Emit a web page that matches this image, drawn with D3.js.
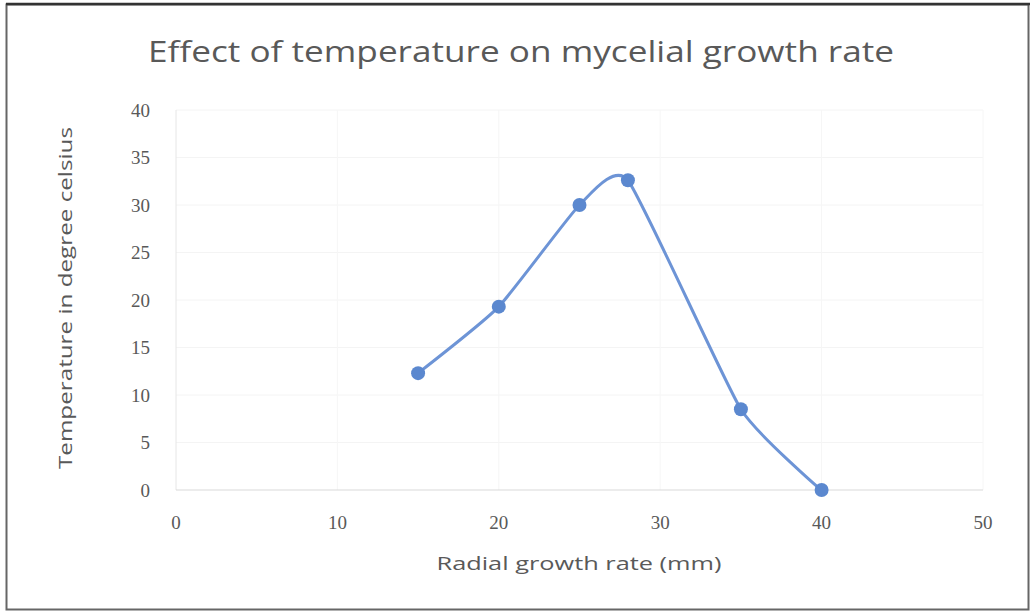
<!DOCTYPE html>
<html><head><meta charset="utf-8">
<script src="https://cdn.jsdelivr.net/npm/d3@7"></script>
<style>body{margin:0;background:#fff}svg{display:block}</style>
</head><body>
<svg id="c" width="1032" height="613"></svg>
<script>
const growthRate = [15, 20, 25, 28, 35, 40];
const temperature = [12.3, 19.3, 30, 32.6, 8.5, 0];
const xTicks = [0, 10, 20, 30, 40, 50];
const yTicks = [0, 5, 10, 15, 20, 25, 30, 35, 40];
const titleText = "Effect of temperature on mycelial growth rate";
const xLabel = "Radial growth rate (mm)";
const yLabel = "Temperature in degree celsius";

const svg = d3.select("#c");
const W = 1032, H = 613;
const m = {left: 176, right: 1032-983, top: 110, bottom: 613-490};
const x = d3.scaleLinear().domain([0, 50]).range([m.left, W - m.right]);
const y = d3.scaleLinear().domain([0, 40]).range([H - m.bottom, m.top]);

svg.append("rect").attr("x", 0).attr("y", 0).attr("width", W).attr("height", H).attr("fill", "#fff");
// outer frame
svg.append("rect").attr("x", 6.5).attr("y", 4.5).attr("width", 1022).attr("height", 605)
  .attr("fill", "none").attr("stroke", "#666").attr("stroke-width", 2);
svg.append("line").attr("x1", 6).attr("x2", 1030).attr("y1", 4).attr("y2", 4).attr("stroke", "#333").attr("stroke-width", 2.5);

// gridlines
svg.append("g").selectAll("line").data(yTicks.slice(1)).join("line")
  .attr("x1", x(0)).attr("x2", x(50)).attr("y1", d => y(d)).attr("y2", d => y(d))
  .attr("stroke", "#f4f4f4").attr("stroke-width", 1);
svg.append("g").selectAll("line").data(xTicks.slice(1)).join("line")
  .attr("x1", d => x(d)).attr("x2", d => x(d)).attr("y1", y(0)).attr("y2", y(40))
  .attr("stroke", "#f6f6f6").attr("stroke-width", 1);
// axis lines
svg.append("line").attr("x1", x(0)).attr("x2", x(0)).attr("y1", y(0)).attr("y2", y(40)).attr("stroke", "#e6e6e6");
svg.append("line").attr("x1", x(0)).attr("x2", x(50)).attr("y1", y(0)).attr("y2", y(0)).attr("stroke", "#d9d9d9");

// tick labels
svg.append("g").selectAll("text").data(yTicks).join("text")
  .attr("x", 150).attr("y", d => y(d)).attr("dy", "0.35em").attr("text-anchor", "end")
  .attr("font-family", "Liberation Serif, serif").attr("font-size", 19).attr("fill", "#595959")
  .text(d => d);
svg.append("g").selectAll("text").data(xTicks).join("text")
  .attr("x", d => x(d)).attr("y", 529).attr("text-anchor", "middle")
  .attr("font-family", "Liberation Serif, serif").attr("font-size", 19).attr("fill", "#595959")
  .text(d => d);

// titles
svg.append("text").attr("x", 521).attr("y", 62).attr("text-anchor", "middle")
  .attr("font-family", "Open Sans, sans-serif").attr("font-size", 30).attr("fill", "#595959")
  .attr("textLength", 746).attr("lengthAdjust", "spacingAndGlyphs")
  .text(titleText);
svg.append("text").attr("x", 579).attr("y", 570).attr("text-anchor", "middle")
  .attr("font-family", "Open Sans, sans-serif").attr("font-size", 19).attr("fill", "#595959")
  .attr("textLength", 285).attr("lengthAdjust", "spacingAndGlyphs")
  .text(xLabel);
svg.append("text").attr("transform", "translate(72,298) rotate(-90)").attr("text-anchor", "middle")
  .attr("font-family", "Open Sans, sans-serif").attr("font-size", 19).attr("fill", "#595959")
  .attr("textLength", 342).attr("lengthAdjust", "spacingAndGlyphs")
  .text(yLabel);

// series
const pts = growthRate.map((g, i) => [g, temperature[i]]);
const line = d3.line().x(d => x(d[0])).y(d => y(d[1])).curve(d3.curveCardinal.tension(0.5));
svg.append("path").datum(pts).attr("d", line).attr("fill", "none")
  .attr("stroke", "#6d94d6").attr("stroke-width", 3);
svg.append("g").selectAll("circle").data(pts).join("circle")
  .attr("cx", d => x(d[0])).attr("cy", d => y(d[1])).attr("r", 7)
  .attr("fill", "#5b88cf");
</script>
</body></html>
